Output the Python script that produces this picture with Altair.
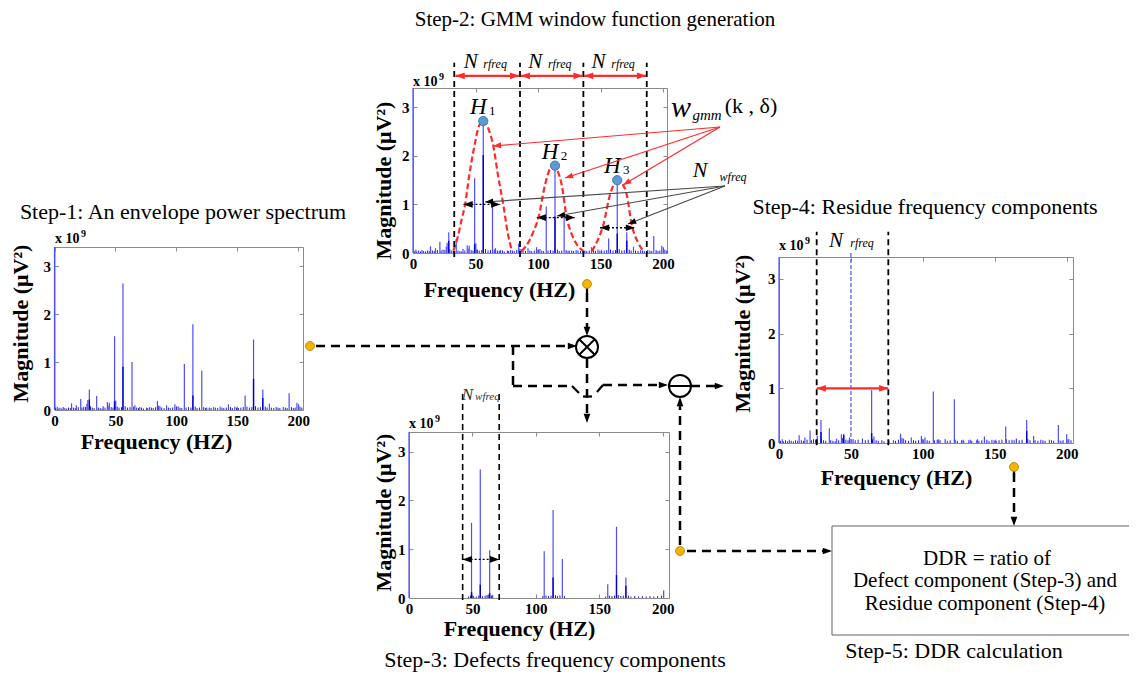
import math
import altair as alt
import pandas as pd

# ============================ DATA ============================
# Magnitudes are in units of 1e9 uV^2 (the axes carry an "x 10^9" multiplier).
TICK_X = [0, 50, 100, 150, 200]
TICK_Y = [0, 1, 2, 3]
X_TITLE = "Frequency (HZ)"
Y_TITLE = "Magnitude (μV²)"

# Step-1 / Step-2: envelope power spectrum lines (Hz, magnitude)
ENV_PEAKS = [(0, 3.40), (2.3, 0.07), (7.2, 0.06), (14.0, 0.14), (18.0, 0.10), (21.5, 0.23),
             (26.6, 0.13), (27.3, 0.21), (28.6, 0.43), (34.6, 0.29), (40.0, 0.08), (43.4, 0.16),
             (45.0, 0.15), (49.3, 1.54), (50.3, 0.20), (56.2, 2.64), (63.6, 1.00), (66.0, 0.10),
             (70.0, 0.06), (75.5, 0.05), (78.0, 0.06), (84.5, 0.19), (86.6, 0.08), (92.0, 0.10),
             (98.8, 0.12), (101.5, 0.08), (106.6, 0.96), (113.6, 1.79), (120.9, 0.82), (125.0, 0.05),
             (130.5, 0.06), (136.0, 0.07), (142.8, 0.12), (148.0, 0.07), (156.5, 0.30), (163.4, 1.47),
             (171.0, 0.43), (176.4, 0.13), (182.0, 0.06), (187.8, 0.06), (192.6, 0.35), (199.0, 0.15),
             (200.3, 0.12)]
ENV_INNER = [(28.6, 0.22), (49.3, 0.18), (56.2, 0.90), (113.6, 0.30), (163.4, 0.65), (171.0, 0.25)]
GMM_INNER = [(28.6, 0.25), (49.3, 0.18), (56.2, 2.02), (113.6, 0.75), (163.4, 0.40), (171.0, 0.25)]
ENV_FLOOR = [(1, .04), (3, .03), (4.5, .05), (6, .03), (8.5, .04), (10, .03), (11.5, .05), (13, .04),
             (15.5, .05), (17, .04), (19.5, .06), (22.5, .05), (24, .07), (25.5, .06), (29.5, .08),
             (31, .05), (32.5, .04), (36, .05), (37.5, .04), (39, .03), (41.5, .05), (44, .09),
             (46.5, .06), (48, .05), (51.5, .07), (53, .05), (55, .06), (58, .08), (60, .05), (62, .06),
             (65, .07), (67.5, .05), (69, .04), (71.5, .05), (73, .03), (76.5, .04), (79.5, .05),
             (81, .04), (83, .06), (85.5, .09), (88, .05), (90, .04), (93.5, .05), (95, .04), (97, .05),
             (100, .07), (103, .05), (104.5, .04), (108, .05), (110, .06), (112, .05), (115.5, .07),
             (117, .04), (119, .05), (122.5, .06), (124, .04), (127, .05), (128.5, .04), (132, .05),
             (134, .04), (137.5, .05), (139, .04), (141, .05), (144.5, .06), (146, .04), (149.5, .05),
             (151, .04), (153, .05), (155, .06), (158, .07), (160, .05), (162, .06), (165, .08),
             (167, .05), (169, .06), (173, .07), (174.5, .05), (178, .05), (180, .04), (183.5, .05),
             (185, .04), (189.5, .05), (191, .04), (194.5, .06), (196, .04), (197.5, .05), (201.5, .07),
             (203, .05)]

# Step-3: defect frequency components
DEF_PEAKS = [(0, 3.40), (49.3, 1.54), (56.2, 2.63), (63.6, 0.98), (106.6, 0.96), (113.6, 1.80),
             (120.9, 0.80), (156.7, 0.28), (163.6, 1.46), (171.0, 0.42), (200.8, 0.16)]
DEF_INNER = [(49.3, 0.12), (56.2, 0.27), (63.6, 0.10), (113.6, 0.42), (163.6, 0.47), (171.0, 0.25)]
DEF_FLOOR = [(47, .03), (48.5, .05), (51, .04), (53, .03), (55, .05), (58, .04), (60, .05), (61.5, .06),
             (62.5, .07), (65, .05), (66, .06), (105.5, .04), (108, .05), (110, .04), (112, .05),
             (115.5, .06), (117, .04), (119, .05), (122.5, .04), (155, .03), (158, .05), (160, .04),
             (162, .05), (165, .06), (167, .04), (169, .05), (173, .05), (175, .03), (178, .04),
             (181, .03), (184, .04), (187, .03), (190, .04), (193, .03), (196, .04), (199, .05)]

# Step-4: residue frequency components
RES_PEAKS = [(0, 3.40), (2.3, 0.07), (7.2, 0.06), (14.0, 0.14), (18.0, 0.10), (21.6, 0.23),
             (26.6, 0.13), (29.2, 0.42), (35.0, 0.27), (40.0, 0.08), (43.4, 0.16), (45.0, 0.17),
             (49.0, 0.10), (64.4, 0.97), (66.0, 0.12), (84.5, 0.17), (86.6, 0.08), (92.0, 0.10),
             (99.0, 0.13), (101.5, 0.10), (107.3, 0.94), (111.0, 0.07), (121.9, 0.80), (128.0, 0.06),
             (133.0, 0.06), (138.0, 0.07), (142.8, 0.12), (148.0, 0.06), (157.6, 0.30), (163.5, 0.05),
             (172.2, 0.42), (177.0, 0.13), (182.0, 0.06), (188.0, 0.06), (194.2, 0.33), (200.0, 0.16)]
RES_INNER = [(29.2, 0.20), (45.0, 0.14), (64.4, 0.18), (172.2, 0.22)]
RES_CENTRE = [(50.0, 3.50)]

# Step-2: harmonic peaks and GMM window curves
H_NAMES = ["1", "2", "3"]
H_FREQ = [56.2, 113.6, 163.4]
H_MAG = [2.72, 1.80, 1.50]
GMM_1 = [(32.3, .05), (36, .35), (39, .70), (41.6, .99), (45, 1.60), (48.3, 2.09), (52, 2.55),
         (56.3, 2.74), (60.5, 2.55), (64.3, 2.20), (68, 1.60), (72.3, .99), (75.5, .45), (79, .05)]
GMM_2 = [(87, .04), (93, .25), (96.5, .45), (100.3, .72), (105.6, 1.40), (109, 1.70), (112.3, 1.79),
         (115.5, 1.70), (119, 1.40), (123, .72), (126.5, .42), (130, .22), (136, .04)]
GMM_3 = [(143, .04), (147.5, .25), (152.3, .58), (157.6, 1.20), (161, 1.42), (164.3, 1.47),
         (167.5, 1.42), (171, 1.20), (175, .58), (180, .22), (184.3, .04)]
R_BOUNDS = [33.0, 85.6, 136.3, 187.0]                                  # N_rfreq limits
R_ARROWS = [(34.0, 85.0, 3.65), (86.2, 135.7, 3.65), (136.9, 186.5, 3.65)]
W_ARROWS = [(40.4, 69.8, 1.00), (99.0, 129.6, 0.73), (149.6, 177.6, 0.52)]   # N_wfreq widths
D_BOUNDS = [42.3, 71.1]
D_ARROW = [(42.3, 71.1, 0.79)]
E_BOUNDS = [26.2, 76.0]
E_ARROW = [(26.2, 76.0, 1.00)]

TITLES = ["Step-1: An envelope power spectrum", "Step-2: GMM window function generation",
          "Step-3: Defects frequency components", "Step-4: Residue frequency components",
          "Step-5: DDR calculation"]
DDR_LINES = ["DDR = ratio of", "Defect component (Step-3) and", "Residue component (Step-4)"]

# ============================ LAYOUT (page pixels) ============================
W, H = 1121, 664
YMAX = 3.4


def V(p):
    return p - 8


P1 = dict(left=54.5, right=303, top=247, bottom=410, xmax=204.0, xt=(156, 441), yt=(20, 323))
P2 = dict(left=413, right=667, top=88, bottom=253, xmax=203.2, xt=(499, 289), yt=(383, 180))
P3 = dict(left=409, right=669, top=432, bottom=598, xmax=205.0, xt=(519, 628), yt=(383, 512))
P4 = dict(left=779, right=1073, top=257, bottom=443, xmax=204.4, xt=(896, 477), yt=(742, 333))

SERIF = "Liberation Serif"
FRAME = "#8a8a8a"
PEAK_BLUE = "#4d4dff"
INNER_BLUE = "#0000cd"
FLOOR_BLUE = "#1c1ce6"
RED = "#ff2b2b"
ARROW = "M0,0L-0.8,2.2L0.8,2.2Z"
OTIMES = "M1,0A1,1,0,1,1,-1,0A1,1,0,1,1,1,0ZM-0.707,-0.707L0.707,0.707M-0.707,0.707L0.707,-0.707"
OMINUS = "M1,0A1,1,0,1,1,-1,0A1,1,0,1,1,1,0ZM-1,0L1,0"
DIRS = {"up": 0, "right": 90, "down": 180, "left": 270}


def xsc(p):
    return alt.Scale(domain=[0, p["xmax"]], range=[V(p["left"]), V(p["right"])], nice=False, zero=False)


def ysc(p):
    return alt.Scale(domain=[0, YMAX], range=[V(p["bottom"]), V(p["top"])], nice=False, zero=False)


def pairs(lst):
    return pd.DataFrame({"f": [a for a, _ in lst], "m": [b for _, b in lst], "b": [0.0] * len(lst)})


def tick_axis(orient, offset, values, domain):
    kw = dict(orient=orient, offset=offset, values=values, grid=False, labels=False, title=None,
              ticks=True, tickSize=4, tickColor=FRAME, tickWidth=1, domain=domain)
    if domain:
        kw.update(domainColor=FRAME, domainWidth=1)
    return alt.Axis(**kw)


def main_x(p):
    return alt.Axis(orient="bottom", offset=V(p["bottom"]) - H, values=TICK_X, format="d", grid=False,
                    ticks=False, domain=True, domainColor=FRAME, domainWidth=1,
                    labelFont=SERIF, labelFontSize=15, labelFontWeight="bold", labelColor="black",
                    labelPadding=3, labelFlush=False, labelOverlap=False,
                    title=X_TITLE, titleFont=SERIF, titleFontSize=22, titleFontWeight="bold",
                    titleColor="black", titleX=V(p["xt"][0]), titleY=p["xt"][1] - p["bottom"],
                    titleAlign="center", titleBaseline="middle", titleAngle=0)


def main_y(p):
    return alt.Axis(orient="left", offset=-V(p["left"]), values=TICK_Y, format="d", grid=False,
                    ticks=False, domain=True, domainColor=FRAME, domainWidth=1,
                    labelFont=SERIF, labelFontSize=15, labelFontWeight="bold", labelColor="black",
                    labelPadding=4, labelOverlap=False,
                    title=Y_TITLE, titleFont=SERIF, titleFontSize=22, titleFontWeight="bold",
                    titleColor="black", titleX=p["yt"][0] - p["left"], titleY=V(p["yt"][1]),
                    titleAlign="center", titleBaseline="middle", titleAngle=270)


def spectrum(p, peaks, inner, floor):
    xs, ys = xsc(p), ysc(p)
    lf = alt.Chart(pairs(floor)).mark_rule(color=FLOOR_BLUE, strokeWidth=1).encode(
        x=alt.X("f:Q", scale=xs, axis=tick_axis("top", -V(p["bottom"]), TICK_X, False)),
        y=alt.Y("m:Q", scale=ys, axis=tick_axis("right", V(p["left"]) - W, TICK_Y, False)),
        y2="b:Q")
    lp = alt.Chart(pairs(peaks)).mark_rule(color=PEAK_BLUE, strokeWidth=1.2).encode(
        x=alt.X("f:Q", scale=xs, axis=main_x(p)),
        y=alt.Y("m:Q", scale=ys, axis=main_y(p)),
        y2="b:Q")
    li = alt.Chart(pairs(inner)).mark_rule(color=INNER_BLUE, strokeWidth=1.4).encode(
        x=alt.X("f:Q", scale=xs, axis=tick_axis("bottom", V(p["top"]) - H, TICK_X, True)),
        y=alt.Y("m:Q", scale=ys, axis=tick_axis("left", -V(p["right"]), TICK_Y, True)),
        y2="b:Q")
    return [lf, lp, li]


def vlines(p, fs, lo, hi, **mk):
    df = pd.DataFrame({"f": fs, "lo": [lo] * len(fs), "hi": [hi] * len(fs)})
    return alt.Chart(df).mark_rule(**mk).encode(
        x=alt.X("f:Q", scale=xsc(p), axis=None),
        y=alt.Y("lo:Q", scale=ysc(p), axis=None), y2="hi:Q")


def harrows(p, segs, color, width, dash=None, head=60):
    df = pd.DataFrame({"lo": [s[0] for s in segs], "hi": [s[1] for s in segs], "y": [s[2] for s in segs]})
    mk = dict(color=color, strokeWidth=width)
    if dash:
        mk["strokeDash"] = dash
    line = alt.Chart(df).mark_rule(**mk).encode(
        x=alt.X("lo:Q", scale=xsc(p), axis=None), x2="hi:Q",
        y=alt.Y("y:Q", scale=ysc(p), axis=None))
    n = len(segs)
    hd = pd.DataFrame({"f": list(df["lo"]) + list(df["hi"]), "m": list(df["y"]) * 2,
                       "a": [DIRS["left"]] * n + [DIRS["right"]] * n})
    heads = alt.Chart(hd).mark_point(shape=ARROW, size=head, filled=True, color=color, opacity=1,
                                     strokeWidth=0).encode(
        x=alt.X("f:Q", scale=xsc(p), axis=None), y=alt.Y("m:Q", scale=ysc(p), axis=None),
        angle=alt.Angle("a:Q", scale=None))
    return [line, heads]


def dtext(p, fs, ms, text, size, dx, dy, color="black", style="italic", baseline="alphabetic"):
    df = pd.DataFrame({"f": fs, "m": ms, "t": text})
    return alt.Chart(df).mark_text(font=SERIF, fontSize=size, fontStyle=style, dx=dx, dy=dy,
                                   color=color, align="center", baseline=baseline).encode(
        x=alt.X("f:Q", scale=xsc(p), axis=None), y=alt.Y("m:Q", scale=ysc(p), axis=None), text="t:N")


def px_rules(segs, **mk):
    df = pd.DataFrame({"x": [V(s[0]) for s in segs], "y": [V(s[1]) for s in segs],
                       "x2": [V(s[2]) for s in segs], "y2": [V(s[3]) for s in segs]})
    return alt.Chart(df).mark_rule(**mk).encode(
        x=alt.X("x:Q", scale=None), y=alt.Y("y:Q", scale=None), x2="x2:Q", y2="y2:Q")


def px_heads(pts, color, size):
    df = pd.DataFrame({"x": [V(p[0]) for p in pts], "y": [V(p[1]) for p in pts], "a": [p[2] for p in pts]})
    return alt.Chart(df).mark_point(shape=ARROW, size=size, filled=True, color=color, opacity=1,
                                    strokeWidth=0).encode(
        x=alt.X("x:Q", scale=None), y=alt.Y("y:Q", scale=None), angle=alt.Angle("a:Q", scale=None))


def px_text(rows, style="normal", weight="normal", align="center", baseline="middle"):
    df = pd.DataFrame({"t": [r[0] for r in rows], "x": [V(r[1]) for r in rows], "y": [V(r[2]) for r in rows],
                       "s": [r[3] for r in rows], "c": [r[4] for r in rows]})
    return alt.Chart(df).mark_text(font=SERIF, fontStyle=style, fontWeight=weight, align=align,
                                   baseline=baseline).encode(
        x=alt.X("x:Q", scale=None), y=alt.Y("y:Q", scale=None), text="t:N",
        size=alt.Size("s:Q", scale=None), color=alt.Color("c:N", scale=None))


def pointer(origin, tips):
    segs = [(origin[0], origin[1], t[0], t[1]) for t in tips]
    heads = [(t[0], t[1], math.degrees(math.atan2(t[0] - origin[0], -(t[1] - origin[1]))) % 360) for t in tips]
    return segs, heads


layers = []

# ---------------- panels ----------------
layers += spectrum(P1, ENV_PEAKS, ENV_INNER, ENV_FLOOR)
layers += spectrum(P2, ENV_PEAKS, GMM_INNER, ENV_FLOOR)
layers += spectrum(P3, DEF_PEAKS, DEF_INNER, DEF_FLOOR)
layers += spectrum(P4, RES_PEAKS, RES_INNER, ENV_FLOOR)

# ---------------- Step-2 annotations ----------------
gmm = pd.DataFrame({"f": [a for a, _ in GMM_1 + GMM_2 + GMM_3],
                    "m": [b for _, b in GMM_1 + GMM_2 + GMM_3],
                    "g": ["w1"] * len(GMM_1) + ["w2"] * len(GMM_2) + ["w3"] * len(GMM_3)})
layers.append(alt.Chart(gmm).mark_line(color=RED, strokeWidth=2.2, strokeDash=[6, 3],
                                       interpolate="monotone").encode(
    x=alt.X("f:Q", scale=xsc(P2), axis=None), y=alt.Y("m:Q", scale=ysc(P2), axis=None), detail="g:N"))
layers.append(vlines(P2, R_BOUNDS, -0.08, 3.92, color="black", strokeWidth=1.8, strokeDash=[6, 4]))
layers += harrows(P2, R_ARROWS, RED, 2.2, head=70)
layers += harrows(P2, W_ARROWS, "black", 1.3, dash=[2, 2], head=70)
hd = pd.DataFrame({"f": H_FREQ, "m": H_MAG})
layers.append(alt.Chart(hd).mark_point(shape="circle", size=85, filled=True, fill="#5b9bd5",
                                       stroke="#3f78b0", strokeWidth=1, opacity=1).encode(
    x=alt.X("f:Q", scale=xsc(P2), axis=None), y=alt.Y("m:Q", scale=ysc(P2), axis=None)))
layers.append(dtext(P2, H_FREQ, H_MAG, ["H"] * 3, 23, -5, -14, baseline="middle"))
layers.append(dtext(P2, H_FREQ, H_MAG, H_NAMES, 13, 9, -10, style="normal", baseline="middle"))
mids = [(R_BOUNDS[i] + R_BOUNDS[i + 1]) / 2 for i in range(3)]
layers.append(dtext(P2, mids, [3.81] * 3, ["N"] * 3, 21, -16.5, 0))
layers.append(dtext(P2, mids, [3.81] * 3, ["rfreq"] * 3, 12, 8, 0))

# ---------------- Step-3 annotations ----------------
layers.append(vlines(P3, D_BOUNDS, -0.04, 4.2, color="black", strokeWidth=1.6, strokeDash=[6, 4]))
layers += harrows(P3, D_ARROW, "black", 1.3, dash=[2, 2], head=70)
dmid = [(D_BOUNDS[0] + D_BOUNDS[1]) / 2]
layers.append(dtext(P3, dmid, [4.06], ["N"], 17, -13.5, 0, color="#333333"))
layers.append(dtext(P3, dmid, [4.06], ["wfreq"], 11, 6.5, 0, color="#333333"))

# ---------------- Step-4 annotations ----------------
layers.append(vlines(P4, [c[0] for c in RES_CENTRE], 0, RES_CENTRE[0][1], color="#5a5aff",
                     strokeWidth=1.3, strokeDash=[4, 2]))
layers.append(vlines(P4, E_BOUNDS, -0.04, 3.86, color="black", strokeWidth=1.8, strokeDash=[6, 4]))
layers += harrows(P4, E_ARROW, RED, 2.2, head=70)
emid = [(E_BOUNDS[0] + E_BOUNDS[1]) / 2]
layers.append(dtext(P4, emid, [3.58], ["N"], 21, -16.5, 0))
layers.append(dtext(P4, emid, [3.58], ["rfreq"], 12, 9.5, 0))

# ---------------- pointers from the legend labels ----------------
red_segs, red_heads = pointer((720, 127), [(493, 146), (565, 178), (623, 185)])
gray_segs, gray_heads = pointer((725, 186), [(485, 202), (557, 216), (628, 224)])
layers.append(px_rules(red_segs, color=RED, strokeWidth=1.2))
layers.append(px_heads(red_heads, RED, 55))
layers.append(px_rules(gray_segs, color="#4a4a4a", strokeWidth=1.2))
layers.append(px_heads(gray_heads, "black", 55))

# ---------------- block-diagram connectors ----------------
DASHED = [(316, 346, 572, 346), (587, 293, 587, 330), (513, 346, 513, 386), (513, 386, 572, 386),
          (603, 385, 662, 385), (587, 359, 587, 416), (691, 386, 717, 386), (680, 545, 680, 404),
          (687, 551, 826, 551), (1014, 473, 1014, 520)]
SOLID = [(572, 386, 579, 393), (583, 396.5, 592, 396.5), (597, 392, 603, 385),
         (587, 287, 587, 293), (1014, 471, 1014, 477)]
HEADS = [(577, 346, "right"), (587, 336, "down"), (668, 385, "right"), (587, 423, "down"),
         (724, 386, "right"), (680, 397, "up"), (832, 551, "right"), (1014, 526, "down")]
layers.append(px_rules(DASHED, color="black", strokeWidth=2.5, strokeDash=[9, 6]))
layers.append(px_rules(SOLID, color="black", strokeWidth=2.2))
layers.append(px_heads([(h[0], h[1], DIRS[h[2]]) for h in HEADS], "black", 70))
for path, (cx, cy) in [(OTIMES, (587, 347)), (OMINUS, (680, 386))]:
    layers.append(alt.Chart(pd.DataFrame({"x": [V(cx)], "y": [V(cy)]})).mark_point(
        shape=path, size=484, filled=True, fill="white", stroke="black", strokeWidth=2, opacity=1).encode(
        x=alt.X("x:Q", scale=None), y=alt.Y("y:Q", scale=None)))
DOTS = [(310, 346), (587, 284), (680, 551), (1014, 467)]
layers.append(alt.Chart(pd.DataFrame({"x": [V(d[0]) for d in DOTS], "y": [V(d[1]) for d in DOTS]})).mark_point(
    shape="circle", size=80, filled=True, fill="#f5b400", stroke="#b37a00", strokeWidth=0.8, opacity=1).encode(
    x=alt.X("x:Q", scale=None), y=alt.Y("y:Q", scale=None)))

# DDR box
layers.append(alt.Chart(pd.DataFrame({"x": [V(832)], "x2": [V(1134)], "y": [V(526)], "y2": [V(635)]})).mark_rect(
    fill="white", stroke="#606060", strokeWidth=1).encode(
    x=alt.X("x:Q", scale=None), x2="x2:Q", y=alt.Y("y:Q", scale=None), y2="y2:Q"))

# ---------------- texts ----------------
layers.append(px_text([
    (TITLES[0], 183, 212, 22, "black"), (TITLES[1], 595, 20, 21, "black"),
    (TITLES[2], 555, 660, 22, "black"), (TITLES[3], 925, 207, 22, "black"),
    (TITLES[4], 954, 651, 22, "black"),
    (DDR_LINES[0], 987, 559, 21, "black"), (DDR_LINES[1], 985, 581, 21, "black"),
    (DDR_LINES[2], 985, 604, 21, "black"),
    ("(k , δ)", 751, 106, 22, "black")]))
layers.append(px_text([("w", 681, 117, 30, "black"), ("gmm", 707, 120, 15, "black"),
                       ("N", 700, 177, 22, "black"), ("wfreq", 733, 181, 12, "black")],
                      style="italic", baseline="alphabetic"))
X10 = [(55, 243), (413, 86), (409, 428), (779, 250)]
layers.append(px_text([("x 10", x, y, 14, "black") for x, y in X10] +
                      [("9", x + 26, y - 6, 10, "black") for x, y in X10],
                      weight="bold", align="left", baseline="alphabetic"))

chart = alt.layer(*layers).properties(
    width=W, height=H, padding=0, autosize=alt.AutoSizeParams(type="none")
).resolve_scale(x="independent", y="independent").configure_view(stroke=None)

chart.save("out.html", embed_options={"renderer": "svg", "actions": False})
